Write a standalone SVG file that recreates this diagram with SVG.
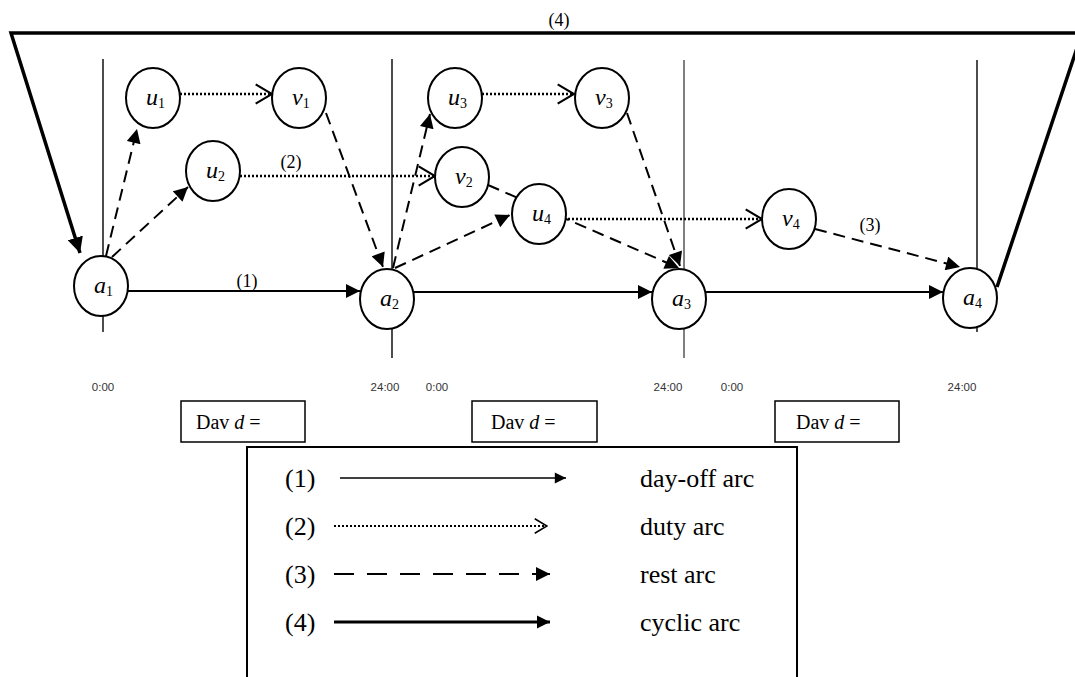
<svg xmlns="http://www.w3.org/2000/svg" width="1075" height="677" viewBox="0 0 1075 677">
  <style>
    .node ellipse { fill: #fff; stroke: #000; stroke-width: 2; }
    .lbl { font-family: "Liberation Serif", "Times New Roman", serif; font-style: italic; font-size: 24px; fill: #000; }
    .sub { font-style: normal; font-size: 14px; }
    .tick { stroke: #000; stroke-width: 1.4; }
    .time { font-family: "Liberation Sans", Arial, sans-serif; font-size: 11.5px; fill: #333; text-anchor: middle; }
    .num { font-family: "Liberation Serif", "Times New Roman", serif; font-size: 18px; fill: #000; text-anchor: middle; }
    .dayoff { stroke: #000; stroke-width: 2; fill: none; }
    .duty { stroke: #000; stroke-width: 2.4; stroke-dasharray: 2 2; fill: none; }
    .rest { stroke: #000; stroke-width: 2; stroke-dasharray: 12 7; fill: none; }
    .cyclic { stroke: #000; stroke-width: 3.5; fill: none; stroke-linejoin: miter; }
    .box { fill: #fff; stroke: #000; stroke-width: 1.5; }
    .dav { font-family: "Liberation Serif", "Times New Roman", serif; font-size: 20px; fill: #000; }
    .leg { font-family: "Liberation Serif", "Times New Roman", serif; font-size: 26px; fill: #000; }
  </style>
  <defs>
    <!-- filled triangle head for day-off and rest arcs -->
    <marker id="solidHead" viewBox="0 0 10 10" refX="10" refY="5" markerWidth="7.5" markerHeight="7" markerUnits="strokeWidth" orient="auto">
      <path d="M0,0 L10,5 L0,10 Z" fill="#000"/>
    </marker>
    <!-- open chevron head for duty arcs -->
    <marker id="openHead" viewBox="0 0 20 22" refX="18" refY="11" markerWidth="8" markerHeight="9" markerUnits="strokeWidth" orient="auto">
      <path d="M1,1 L18,11 L1,21" fill="none" stroke="#000" stroke-width="2.2"/>
    </marker>
    <!-- heavier head for the cyclic arc -->
    <marker id="cycHead" viewBox="0 0 10 10" refX="10" refY="5" markerWidth="4.5" markerHeight="4.5" markerUnits="strokeWidth" orient="auto">
      <path d="M0,0 L10,5 L0,10 Z" fill="#000"/>
    </marker>
  </defs>

  <!-- day boundary lines -->
  <g id="day-lines">
    <line class="tick" x1="103" y1="59" x2="103" y2="332"/>
    <line class="tick" x1="392" y1="59" x2="392" y2="358"/>
    <line class="tick" x1="684" y1="60" x2="684" y2="358" style="stroke-width:1"/>
    <line class="tick" x1="977" y1="60" x2="977" y2="332"/>
  </g>

  <!-- arcs -->
  <g id="connectors">
    <!-- cyclic arc a4 -> a1 -->
    <polyline class="cyclic" points="997,287 1082,33 11,33 80,253" marker-end="url(#cycHead)"/>
    <!-- day-off arcs -->
    <line class="dayoff" x1="128" y1="291" x2="360" y2="291" marker-end="url(#solidHead)"/>
    <line class="dayoff" x1="414" y1="292" x2="652" y2="292" marker-end="url(#solidHead)"/>
    <line class="dayoff" x1="706" y1="292" x2="943" y2="292" marker-end="url(#solidHead)"/>
    <!-- duty arcs -->
    <line class="duty" x1="180" y1="94" x2="272" y2="94" marker-end="url(#openHead)"/>
    <line class="duty" x1="240" y1="176" x2="435" y2="176" marker-end="url(#openHead)"/>
    <line class="duty" x1="482" y1="94" x2="574" y2="94" marker-end="url(#openHead)"/>
    <line class="duty" x1="568" y1="219" x2="762" y2="219" marker-end="url(#openHead)"/>
    <!-- rest arcs -->
    <line class="rest" x1="106" y1="256" x2="137" y2="129" marker-end="url(#solidHead)"/>
    <line class="rest" x1="112" y1="257" x2="188" y2="187" marker-end="url(#solidHead)"/>
    <line class="rest" x1="326" y1="113" x2="383" y2="267" marker-end="url(#solidHead)"/>
    <line class="rest" x1="393" y1="268" x2="430" y2="114" marker-end="url(#solidHead)"/>
    <line class="rest" x1="395" y1="268" x2="510" y2="215" marker-end="url(#solidHead)"/>
    <line class="rest" x1="488" y1="185" x2="679" y2="268" marker-end="url(#solidHead)"/>
    <line class="rest" x1="627" y1="113" x2="680" y2="266" marker-end="url(#solidHead)"/>
    <line class="rest" x1="815" y1="229" x2="960" y2="267" marker-end="url(#solidHead)"/>
  </g>

  <!-- arc labels -->
  <g id="arc-labels">
    <text class="num" x="559" y="26">(4)</text>
    <text class="num" x="247" y="287">(1)</text>
    <text class="num" x="291" y="168">(2)</text>
    <text class="num" x="870" y="231">(3)</text>
  </g>

  <!-- nodes -->
  <g id="a1" class="node"><ellipse cx="101" cy="286" rx="27" ry="30"/><text class="lbl" x="94" y="293">a<tspan class="sub" dy="3">1</tspan></text></g>
  <g id="u1" class="node"><ellipse cx="153" cy="98" rx="27" ry="30"/><text class="lbl" x="146" y="105">u<tspan class="sub" dy="3">1</tspan></text></g>
  <g id="v1" class="node"><ellipse cx="299" cy="98" rx="27" ry="30"/><text class="lbl" x="292" y="105">v<tspan class="sub" dy="3">1</tspan></text></g>
  <g id="u2" class="node"><ellipse cx="213" cy="171" rx="27" ry="30"/><text class="lbl" x="206" y="178">u<tspan class="sub" dy="3">2</tspan></text></g>
  <g id="a2" class="node"><ellipse cx="387" cy="299" rx="27" ry="30"/><text class="lbl" x="380" y="306">a<tspan class="sub" dy="3">2</tspan></text></g>
  <g id="u3" class="node"><ellipse cx="455" cy="98" rx="27" ry="30"/><text class="lbl" x="448" y="105">u<tspan class="sub" dy="3">3</tspan></text></g>
  <g id="v3" class="node"><ellipse cx="602" cy="98" rx="27" ry="30"/><text class="lbl" x="595" y="105">v<tspan class="sub" dy="3">3</tspan></text></g>
  <g id="v2" class="node"><ellipse cx="462" cy="177" rx="27" ry="30"/><text class="lbl" x="455" y="184">v<tspan class="sub" dy="3">2</tspan></text></g>
  <g id="u4" class="node"><ellipse cx="539" cy="214" rx="27" ry="30"/><text class="lbl" x="532" y="221">u<tspan class="sub" dy="3">4</tspan></text></g>
  <g id="a3" class="node"><ellipse cx="679" cy="299" rx="27" ry="30"/><text class="lbl" x="672" y="306">a<tspan class="sub" dy="3">3</tspan></text></g>
  <g id="v4" class="node"><ellipse cx="789" cy="219" rx="27" ry="30"/><text class="lbl" x="782" y="226">v<tspan class="sub" dy="3">4</tspan></text></g>
  <g id="a4" class="node"><ellipse cx="970" cy="298" rx="27" ry="30"/><text class="lbl" x="963" y="305">a<tspan class="sub" dy="3">4</tspan></text></g>

  <!-- time axis labels -->
  <g id="times">
    <text class="time" x="103" y="391">0:00</text>
    <text class="time" x="385" y="391">24:00</text>
    <text class="time" x="437" y="391">0:00</text>
    <text class="time" x="668" y="391">24:00</text>
    <text class="time" x="732" y="391">0:00</text>
    <text class="time" x="962" y="391">24:00</text>
  </g>

  <!-- day boxes -->
  <g id="day-boxes">
    <rect class="box" x="181" y="401" width="124" height="41"/>
    <text class="dav" x="196" y="429">Dav <tspan font-style="italic">d</tspan> =</text>
    <rect class="box" x="472" y="401" width="125" height="41"/>
    <text class="dav" x="491" y="429">Dav <tspan font-style="italic">d</tspan> =</text>
    <rect class="box" x="775" y="401" width="124" height="41"/>
    <text class="dav" x="796" y="429">Dav <tspan font-style="italic">d</tspan> =</text>
  </g>

  <!-- legend -->
  <g id="legend">
    <rect class="box" x="247" y="447" width="550" height="240" style="stroke-width:2"/>
    <text class="leg" x="285" y="487">(1)</text>
    <line class="dayoff" x1="340" y1="478" x2="566" y2="478" style="stroke-width:1.6" marker-end="url(#solidHead)"/>
    <text class="leg" x="640" y="487">day-off arc</text>
    <text class="leg" x="285" y="535">(2)</text>
    <line class="duty" x1="334" y1="526" x2="547" y2="526" style="stroke-width:1.8" marker-end="url(#openHead)"/>
    <text class="leg" x="640" y="535">duty arc</text>
    <text class="leg" x="285" y="583">(3)</text>
    <line class="rest" x1="334" y1="574" x2="550" y2="574" style="stroke-dasharray:20 13" marker-end="url(#solidHead)"/>
    <text class="leg" x="640" y="583">rest arc</text>
    <text class="leg" x="285" y="631">(4)</text>
    <line class="cyclic" x1="334" y1="622" x2="550" y2="622" style="stroke-width:3" marker-end="url(#cycHead)"/>
    <text class="leg" x="640" y="631">cyclic arc</text>
  </g>
</svg>
